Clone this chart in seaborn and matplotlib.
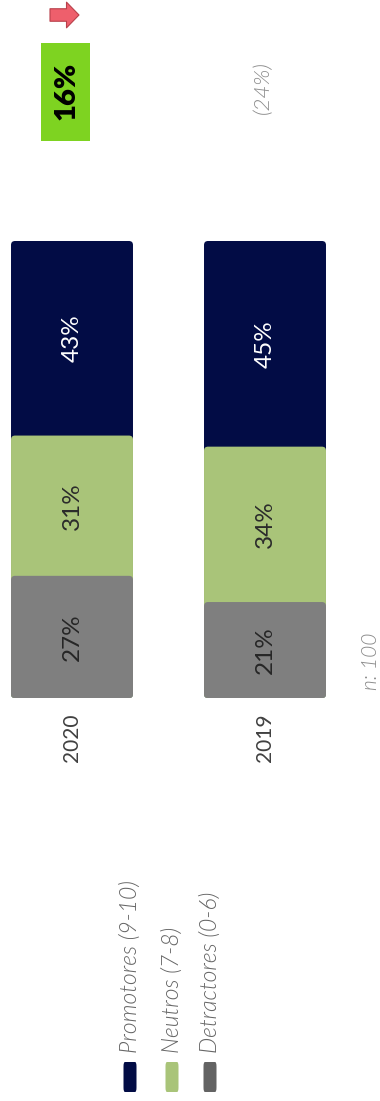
import matplotlib
matplotlib.use("Agg")
import matplotlib.pyplot as plt
import numpy as np
import pandas as pd
import seaborn as sns
from matplotlib.patches import FancyBboxPatch, Rectangle, FancyArrowPatch

# NPS survey results by year (percent of respondents)
years = ["2020", "2019"]
segments = ["Detractores (0-6)", "Neutros (7-8)", "Promotores (9-10)"]
detractores = [27, 21]
neutros = [31, 34]
promotores = [43, 45]
sample_label = "n: 100"

bar_colors = ["#7F7F7F", "#A9C479", "#020C45"]
legend_colors = ["#636363", "#A9C479", "#020C45"]
label_colors = ["#262626", "#2B2B2B", "#FFFFFF"]

sns.set_theme(style="white")
plt.rcParams["font.family"] = ["Lato", "DejaVu Sans"]

W, H = 380, 1101
fig = plt.figure(figsize=(W / 100, H / 100), dpi=100)
fig.patch.set_facecolor("white")


def fx(px):
    return px / W


def fy(py):
    return 1 - py / H


# value axis runs upward, the two years side by side
bar_top, bar_bottom = 241, 698
ax = fig.add_axes([0, fy(bar_bottom), 1, (bar_bottom - bar_top) / H])

df = pd.DataFrame({"year": years,
                   segments[0]: detractores,
                   segments[1]: neutros,
                   segments[2]: promotores})
totals = df[segments].sum(axis=1)
shares = df[segments].div(totals, axis=0) * 100
cum = shares.cumsum(axis=1)

# stacked bars: draw cumulative totals from the top segment down
for seg, color in reversed(list(zip(segments, bar_colors))):
    sns.barplot(x=df["year"], y=cum[seg], order=years, color=color,
                saturation=1, width=0.632, linewidth=0, ax=ax)

px_per_x = 193.0
x_left = -72 / px_per_x
ax.set_xlim(x_left, x_left + W / px_per_x)
ax.set_ylim(0, 100)
px_per_y = (bar_bottom - bar_top) / 100.0

# soften the bar corners
radius_px = 4
for p in list(ax.patches):
    x0, y0 = p.get_x(), p.get_y()
    w, h = p.get_width(), p.get_height()
    rounded = FancyBboxPatch(
        (x0, y0), w, h,
        boxstyle=f"round,pad=0,rounding_size={radius_px / px_per_x}",
        mutation_aspect=px_per_x / px_per_y,
        facecolor=p.get_facecolor(), edgecolor="none", zorder=p.get_zorder())
    p.remove()
    ax.add_patch(rounded)

# segment value labels
for i, year in enumerate(years):
    for seg, tc in zip(segments, label_colors):
        val = df.loc[i, seg]
        center = cum.loc[i, seg] - shares.loc[i, seg] / 2
        ax.text(i, center, f"{val}%", rotation=90, ha="center", va="center",
                color=tc, fontsize=17.5)

ax.set_xticks(range(len(years)))
ax.set_xticklabels(years, rotation=90, fontsize=15, color="#404040")
ax.tick_params(axis="x", length=0, pad=11)
ax.set_yticks([])
ax.set_xlabel("")
ax.set_ylabel("")
sns.despine(ax=ax, left=True, bottom=True)
ax.patch.set_alpha(0)

# NPS = promotores - detractores
nps = [p - d for p, d in zip(promotores, detractores)]

fig.add_artist(Rectangle((fx(41), fy(141)), fx(90) - fx(41), (141 - 43) / H,
                         transform=fig.transFigure, facecolor="#7ED321",
                         edgecolor="none"))
fig.text(fx(66), fy(91), f"{nps[0]}%", rotation=90, ha="center", va="center",
         fontsize=21, fontweight="heavy", color="black")
fig.text(fx(263), fy(88), f"({nps[1]}%)", rotation=90, ha="center",
         va="center", fontsize=16, style="italic", fontweight=300,
         color="#8C8C8C")

# change marker
fig.add_artist(FancyArrowPatch(
    (fx(50), fy(15)), (fx(79), fy(15)), transform=fig.transFigure,
    arrowstyle="simple,head_length=0.9,head_width=1.85,tail_width=0.9",
    mutation_scale=10, facecolor="#EE5F6C", edgecolor="#B8404A",
    linewidth=0.8, shrinkA=0, shrinkB=0))

fig.text(fx(371), fy(661), sample_label, rotation=90, ha="center",
         va="center", fontsize=15, style="italic", fontweight=300,
         color="#8C8C8C")

# legend, Promotores first
legend_x = [130, 172, 210]
for seg, color, lx in zip(reversed(segments), reversed(legend_colors), legend_x):
    fig.add_artist(FancyBboxPatch(
        (fx(lx - 6.5), fy(1092)), fx(13), 30 / H,
        boxstyle="round,pad=0,rounding_size=0.004",
        transform=fig.transFigure, facecolor=color, edgecolor="none"))
    fig.text(fx(lx), fy(1053), seg, rotation=90, ha="center", va="bottom",
             fontsize=16.5, style="italic", fontweight=300, color="#666666")

fig.savefig("out.png", dpi=100, facecolor="white")
